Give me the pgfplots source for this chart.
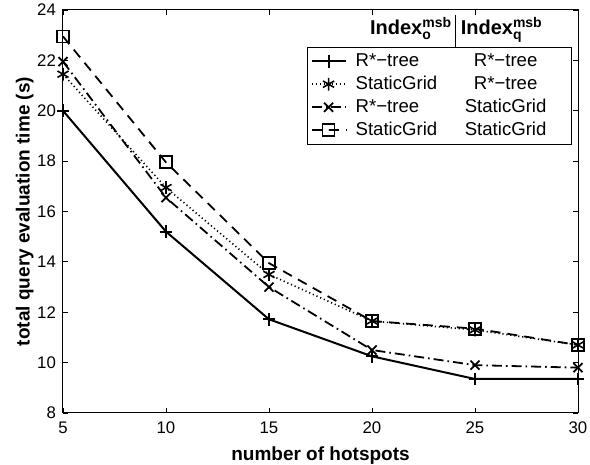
\documentclass[border=0pt]{standalone}
\usepackage{amsmath}
\usepackage{fontspec}
\setmainfont{Liberation Sans}
\usepackage{pgfplots}
\pgfplotsset{compat=1.18}

\newcommand{\two}[2]{\hspace{3pt}\makebox[45pt][l]{#1}\makebox[60pt][c]{#2}}
\newcommand{\hdr}[1]{\textbf{Index}$^{\text{\bfseries msb}}_{\text{\bfseries #1}}$}

\begin{document}
\begin{tikzpicture}
\begin{axis}[
    scale only axis,
    width=257.5pt, height=201.5pt,
    xmin=5, xmax=30, ymin=8, ymax=24,
    xtick={5,10,15,20,25,30},
    ytick={8,10,12,14,16,18,20,22,24},
    tick align=inside,
    major tick length=2.5pt,
    axis line style={line width=0.5pt},
    every tick/.style={black, line width=0.4pt},
    /pgf/number format/assume math mode=true,
    tick label style={font=\fontsize{8.4}{10}\selectfont},
    xticklabel style={yshift=-1pt},
    xlabel={\textbf{number of hotspots}},
    ylabel={\textbf{total query evaluation time (s)}},
    label style={font=\fontsize{9.5}{11}\selectfont},
    xlabel style={yshift=0.5pt},
    ylabel style={yshift=-5pt},
    clip=false,
    legend cell align=left,
    legend style={at={(0.4738,0.908)}, anchor=north west,
        draw=black, line width=0.5pt,
        font=\fontsize{9.3}{10.5}\selectfont,
        row sep=0.3pt, inner sep=1.5pt,
        nodes={inner sep=1.5pt}},
]
\addplot[black, line width=1pt, mark=+, mark size=3.2pt,
    mark options={solid}]
    coordinates {(5,20.0) (10,15.2) (15,11.72) (20,10.25) (25,9.35) (30,9.35)};
\addlegendentry{\two{R*−tree}{R*−tree}}
\addplot[black, line width=0.8pt, dash pattern={on 0.6pt off 1.4pt}, mark=asterisk, mark size=3.2pt,
    mark options={solid}]
    coordinates {(5,21.45) (10,16.95) (15,13.5) (20,11.65) (25,11.3) (30,10.7)};
\addlegendentry{\two{StaticGrid}{R*−tree}}
\addplot[black, line width=0.9pt, dash pattern={on 5pt off 2pt on 0.8pt off 2pt}, mark=x, mark size=3.2pt,
    mark options={solid}]
    coordinates {(5,21.95) (10,16.55) (15,13.0) (20,10.5) (25,9.9) (30,9.8)};
\addlegendentry{\two{R*−tree}{StaticGrid}}
\addplot[black, line width=0.9pt, dash pattern={on 5pt off 3.5pt}, mark=square, mark size=3pt,
    mark options={solid}]
    coordinates {(5,22.95) (10,17.95) (15,13.95) (20,11.65) (25,11.35) (30,10.7)};
\addlegendentry{\two{StaticGrid}{StaticGrid}}

\node[anchor=base, font=\fontsize{10}{12}\selectfont, inner sep=0pt] at (rel axis cs:0.676,0.938) {\hdr{o}};
\node[anchor=base, font=\fontsize{10}{12}\selectfont, inner sep=0pt] at (rel axis cs:0.852,0.938) {\hdr{q}};
\draw[black, line width=0.5pt] (rel axis cs:0.763,0.988) -- (rel axis cs:0.763,0.682);
\end{axis}
\pgfresetboundingbox
\path ([shift={(-31.5pt,-26pt)}]current axis.south west) rectangle ([shift={(6pt,5pt)}]current axis.north east);
\end{tikzpicture}
\end{document}
